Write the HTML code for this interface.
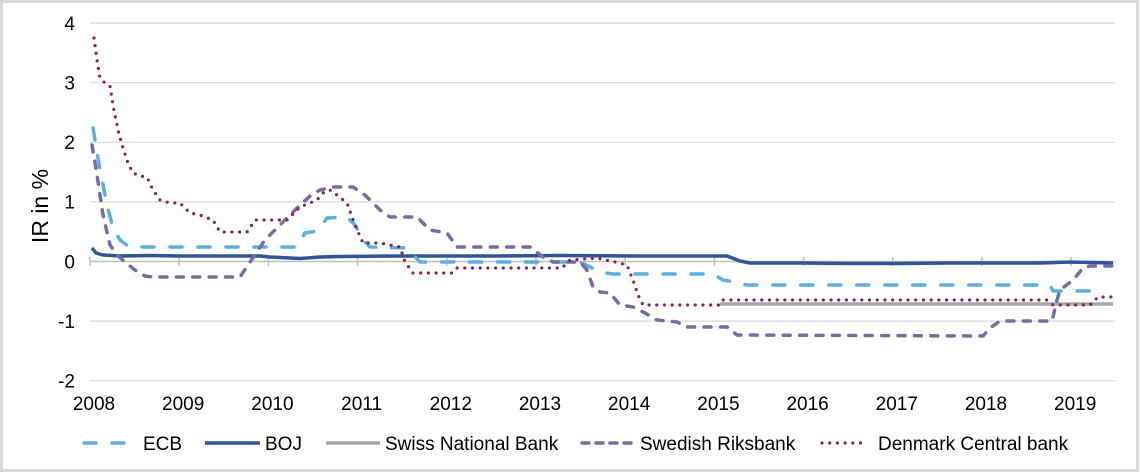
<!DOCTYPE html>
<html><head><meta charset="utf-8"><style>
html,body{margin:0;padding:0;background:#fff;}
svg{display:block;}
text{font-family:"Liberation Sans",Arial,sans-serif;fill:#000;}
</style></head><body>
<svg width="1140" height="473" viewBox="0 0 1140 473" xmlns="http://www.w3.org/2000/svg">
<rect x="1.5" y="1.5" width="1136" height="469" fill="#fff" stroke="#d9d9d9" stroke-width="3"/>
<!-- gridlines -->
<g stroke="#d9d9d9" stroke-width="1.2">
<line x1="90" y1="23.1" x2="1115" y2="23.1"/>
<line x1="90" y1="82.7" x2="1115" y2="82.7"/>
<line x1="90" y1="142.3" x2="1115" y2="142.3"/>
<line x1="90" y1="201.9" x2="1115" y2="201.9"/>
<line x1="90" y1="321.1" x2="1115" y2="321.1"/>
<line x1="90" y1="380.7" x2="1115" y2="380.7"/>
</g>
<!-- x axis -->
<g stroke="#bfbfbf" stroke-width="1.5">
<line x1="90" y1="261.5" x2="1115" y2="261.5"/>
<line x1="90" y1="257" x2="90" y2="266"/>
<line x1="179.2" y1="257" x2="179.2" y2="266"/>
<line x1="268.4" y1="257" x2="268.4" y2="266"/>
<line x1="357.6" y1="257" x2="357.6" y2="266"/>
<line x1="446.8" y1="257" x2="446.8" y2="266"/>
<line x1="536" y1="257" x2="536" y2="266"/>
<line x1="625.2" y1="257" x2="625.2" y2="266"/>
<line x1="714.4" y1="257" x2="714.4" y2="266"/>
<line x1="803.6" y1="257" x2="803.6" y2="266"/>
<line x1="892.8" y1="257" x2="892.8" y2="266"/>
<line x1="982" y1="257" x2="982" y2="266"/>
<line x1="1071.2" y1="257" x2="1071.2" y2="266"/>
</g>
<!-- y labels -->
<g font-size="19" text-anchor="end">
<text x="75" y="29.9">4</text>
<text x="75" y="89.5">3</text>
<text x="75" y="149.1">2</text>
<text x="75" y="208.7">1</text>
<text x="75" y="268.3">0</text>
<text x="75" y="327.9">-1</text>
<text x="75" y="387.5">-2</text>
</g>
<text font-size="23" text-anchor="middle" transform="translate(48,206) rotate(-90)">IR in %</text>
<!-- x labels -->
<g font-size="19" text-anchor="middle">
<text x="94" y="410">2008</text>
<text x="183.2" y="410">2009</text>
<text x="272.4" y="410">2010</text>
<text x="361.6" y="410">2011</text>
<text x="450.8" y="410">2012</text>
<text x="540" y="410">2013</text>
<text x="629.2" y="410">2014</text>
<text x="718.4" y="410">2015</text>
<text x="807.6" y="410">2016</text>
<text x="896.8" y="410">2017</text>
<text x="986" y="410">2018</text>
<text x="1075.2" y="410">2019</text>
</g>
<!-- Swiss -->
<polyline fill="none" stroke="#a5a5a5" stroke-width="3.5" points="720,304 1113,304"/>
<!-- BOJ -->
<polyline fill="none" stroke="#2f5597" stroke-width="3.5" stroke-linejoin="round" points="92,248 96,253 103,255 120,256 150,255.5 180,256 260,256 270,257 290,258 300,258.5 320,257 340,256.5 400,256 500,256 560,255.5 640,256 680,256 727,256 740,261 750,263 800,263 850,263.5 900,263.5 950,263 1000,263 1040,263 1070,262 1113,263"/>
<!-- ECB -->
<polyline fill="none" stroke="#5aaee0" stroke-width="3.5" stroke-dasharray="12 16" stroke-linecap="round" stroke-linejoin="round" points="93,128 100,170 107,205 113,228 120,240 128,246 135,247 297,247 305,233 318,231 327,218 347,217 355,225 363,240 370,247 407,248 420,262 580,262 590,267 600,272 613,274 713,274 723,280 735,282 747,285 1050,285 1053,291 1098,291"/>
<!-- Swedish -->
<polyline fill="none" stroke="#766ea3" stroke-width="3.5" stroke-dasharray="7 9.4" stroke-linecap="round" stroke-linejoin="round" points="92,145 97,175 103,215 110,245 117,255 125,262 135,270 145,276 153,277 240,277 250,262 265,240 280,225 295,210 310,196 320,190 333,187 353,187 365,195 380,210 390,217 417,217 430,230 447,233 457,247 530,247 543,257 553,262 580,262 587,270 593,287 600,292 610,293 620,305 633,307 645,313 657,320 677,322 687,327 727,327 737,335 983,336 990,328 1000,321 1052,321 1057,300 1060,290 1073,280 1083,268 1090,266 1113,266"/>
<!-- Denmark -->
<polyline fill="none" stroke="#80285a" stroke-width="3.2" stroke-dasharray="0 7.7" stroke-linecap="round" stroke-linejoin="round" points="94,38 97,60 100,78 105,83 110,86 113,105 118,130 123,148 128,163 133,173 140,176 147,177 153,190 160,200 170,203 180,203 190,213 200,215 213,220 220,232 247,232 255,220 287,220 300,207 310,203 317,200 323,193 330,190 337,195 347,203 355,225 363,243 380,243 400,247 405,262 413,273 452,273 457,268 562,268 570,260 597,258 615,262 627,265 633,280 638,295 643,305 720,305 723,300 1047,300 1053,305 1090,305 1098,297 1113,297"/>
<!-- legend -->
<line x1="84" y1="443" x2="126" y2="443" stroke="#5aaee0" stroke-width="3.5" stroke-dasharray="12 16" stroke-linecap="round"/>
<text x="143" y="450" font-size="19">ECB</text>
<line x1="205" y1="443" x2="260" y2="443" stroke="#2f5597" stroke-width="3.5"/>
<text x="265" y="450" font-size="19">BOJ</text>
<line x1="326" y1="443" x2="380" y2="443" stroke="#a5a5a5" stroke-width="3.5"/>
<text x="385" y="450" font-size="19">Swiss National Bank</text>
<line x1="582" y1="443" x2="634" y2="443" stroke="#766ea3" stroke-width="3.5" stroke-dasharray="7 7" stroke-linecap="round"/>
<text x="640" y="450" font-size="19">Swedish Riksbank</text>
<line x1="822" y1="443" x2="868" y2="443" stroke="#80285a" stroke-width="3.2" stroke-dasharray="0 7.7" stroke-linecap="round"/>
<text x="878" y="450" font-size="19">Denmark Central bank</text>
</svg>
</body></html>
